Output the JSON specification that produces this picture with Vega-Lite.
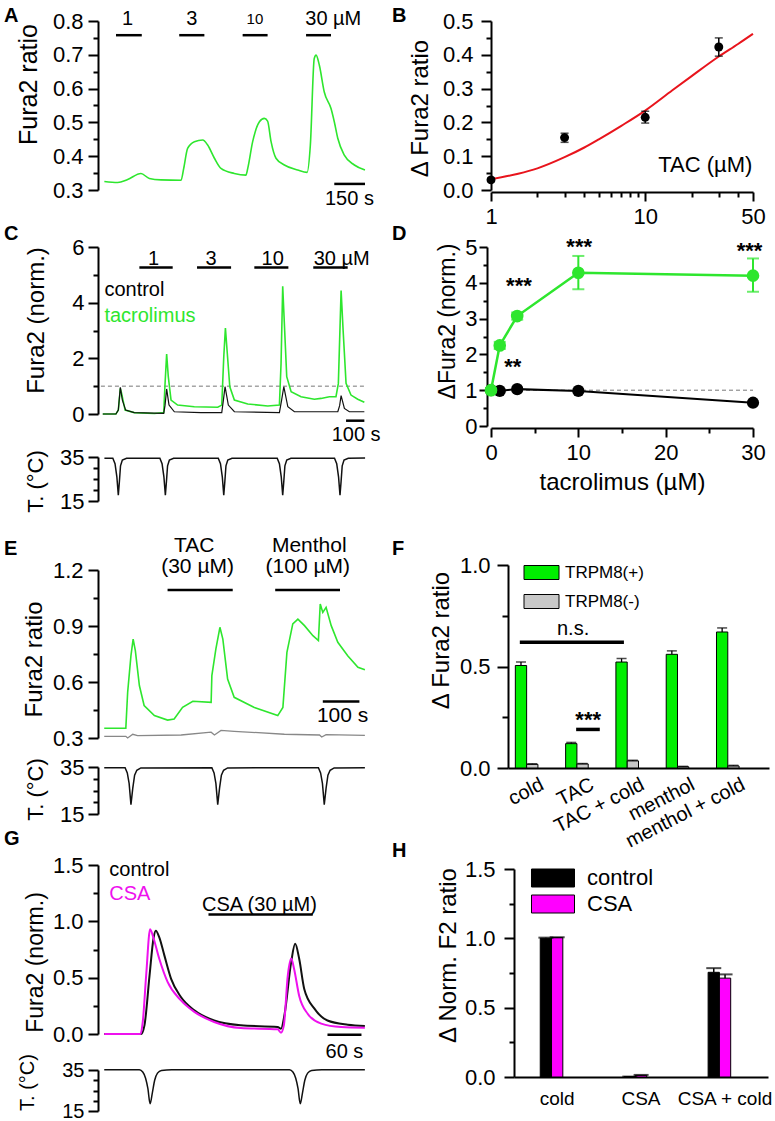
{
"$schema": "https://vega.github.io/schema/vega-lite/v6.json",
"padding": {"left": 3, "top": 6, "right": 2, "bottom": 0},
"config": {
 "view": {"stroke": null},
 "font": "Liberation Sans",
 "axis": {"domainColor": "black", "domainWidth": 2, "tickColor": "black", "tickWidth": 2, "labelColor": "black", "titleColor": "black", "labelFontSize": 22, "titleFontSize": 23, "titleFontWeight": "normal", "grid": false, "labelFlush": false, "labelOverlap": false, "tickCount": 40},
 "text": {"color": "black"}
},
"bounds": "flush",
"spacing": 393,
"resolve": {"scale": {"color": "independent"}, "legend": {"color": "independent"}},
"hconcat": [
{
"bounds": "flush",
"spacing": 0,
"vconcat": [
{
 "width": 268, "height": 169,
 "layer": [
  {"data": {"values": [{"t":31,"v":0.325},{"t":96,"v":0.322},{"t":145,"v":0.331},{"t":210,"v":0.349},{"t":251,"v":0.334},{"t":308,"v":0.33},{"t":406,"v":0.329},{"t":419,"v":0.364},{"t":438,"v":0.423},{"t":471,"v":0.443},{"t":512,"v":0.448},{"t":536,"v":0.433},{"t":569,"v":0.394},{"t":601,"v":0.364},{"t":666,"v":0.349},{"t":723,"v":0.344},{"t":732,"v":0.364},{"t":756,"v":0.443},{"t":789,"v":0.502},{"t":813,"v":0.512},{"t":829,"v":0.504},{"t":846,"v":0.443},{"t":870,"v":0.394},{"t":911,"v":0.374},{"t":976,"v":0.359},{"t":1022,"v":0.352},{"t":1038,"v":0.433},{"t":1057,"v":0.689},{"t":1066,"v":0.699},{"t":1082,"v":0.669},{"t":1106,"v":0.59},{"t":1139,"v":0.541},{"t":1155,"v":0.502},{"t":1172,"v":0.453},{"t":1204,"v":0.403},{"t":1253,"v":0.374},{"t":1305,"v":0.359}]},
   "mark": {"type": "line", "color": "#2ee62e", "strokeWidth": 1.6, "interpolate": "monotone"},
   "encoding": {
    "x": {"field": "t", "type": "quantitative", "scale": {"domain": [0, 1310], "nice": false, "zero": false}, "axis": null},
    "y": {"field": "v", "type": "quantitative", "scale": {"domain": [0.3, 0.8], "nice": false, "zero": false},
          "axis": {"values": [0.3,0.35,0.4,0.45,0.5,0.55,0.6,0.65,0.7,0.75,0.8], "tickCount": 40, "labelOverlap": false, "labelExpr": "abs(datum.value*10-round(datum.value*10))<0.01 ? format(datum.value,'.1f') : ''", "tickSize": {"condition": {"test": "abs(datum.value*10-round(datum.value*10))<0.01", "value": 10}, "value": 5}, "labelPadding": 5, "title": "Fura2 ratio", "titleX": -70, "titleY": 63, "titleBaseline": "middle", "titleFontSize": 25}}}},
  {"data": {"values": [{"t1":88,"t2":214,"v":0.758},{"t1":397,"t2":520,"v":0.758},{"t1":707,"t2":829,"v":0.758},{"t1":1017,"t2":1139,"v":0.758},{"t1":1155,"t2":1305,"v":0.318}]},
   "mark": {"type": "rule", "color": "black", "strokeWidth": 2.5},
   "encoding": {"x": {"field": "t1", "type": "quantitative", "axis": null}, "x2": {"field": "t2"}, "y": {"field": "v", "type": "quantitative"}}},
  {"data": {"values": [{"label":"1","t":145,"v":0.807},{"label":"3","t":459,"v":0.807},{"label":"30 µM","t":1150,"v":0.807},{"label":"150 s","t":1229,"v":0.274}]},
   "mark": {"type": "text", "fontSize": 20, "align": "center", "baseline": "middle"},
   "encoding": {"x": {"field": "t", "type": "quantitative", "axis": null}, "y": {"field": "v", "type": "quantitative"}, "text": {"field": "label", "type": "nominal"}}},
  {"data": {"values": [{"label":"10","t":767,"v":0.805}]},
   "mark": {"type": "text", "fontSize": 15, "align": "center", "baseline": "middle"},
   "encoding": {"x": {"field": "t", "type": "quantitative", "axis": null}, "y": {"field": "v", "type": "quantitative"}, "text": {"field": "label", "type": "nominal"}}},
  {"data": {"values": [{"label":"A","t":-459,"v":0.797},{"label":"B","t":1437,"v":0.797}]},
   "mark": {"type": "text", "fontSize": 20, "fontWeight": "bold", "align": "left", "baseline": "alphabetic"},
   "encoding": {"x": {"field": "t", "type": "quantitative", "axis": null}, "y": {"field": "v", "type": "quantitative"}, "text": {"field": "label", "type": "nominal"}}}
 ]
},
{"width": 268, "height": 57, "data": {"values": [{}]}, "mark": {"type": "point", "opacity": 0}},
{
 "width": 268, "height": 167,
 "layer": [
  {"data": {"values": [{"t":16,"v":1},{"t":1455,"v":1}]},
   "mark": {"type": "line", "color": "#777777", "strokeWidth": 1, "strokeDash": [4, 3]},
   "encoding": {
    "x": {"field": "t", "type": "quantitative", "scale": {"domain": [0, 1464], "nice": false, "zero": false}, "axis": null},
    "y": {"field": "v", "type": "quantitative", "scale": {"domain": [0, 6], "nice": false},
          "axis": {"values": [0,1,2,3,4,5,6], "tickCount": 40, "labelOverlap": false, "labelExpr": "datum.value%2==0 ? format(datum.value,'d') : ''", "tickSize": {"condition": {"test": "datum.value%2==0", "value": 10}, "value": 5}, "labelPadding": 4, "title": "Fura2 (norm.)", "titleX": -62, "titleY": 73, "titleBaseline": "middle", "titleFontSize": 24}}}},
  {"data": {"values": [{"t":26,"v":0},{"t":98,"v":0},{"t":111,"v":0.14},{"t":122,"v":0.92},{"t":129,"v":0.74},{"t":148,"v":0.14},{"t":198,"v":0.05},{"t":308,"v":0.02},{"t":359,"v":0.05},{"t":366,"v":1.05},{"t":375,"v":2.15},{"t":384,"v":1.34},{"t":399,"v":0.5},{"t":435,"v":0.32},{"t":526,"v":0.26},{"t":654,"v":0.24},{"t":676,"v":0.32},{"t":687,"v":2.05},{"t":696,"v":3.09},{"t":705,"v":2.29},{"t":720,"v":0.98},{"t":745,"v":0.5},{"t":818,"v":0.36},{"t":927,"v":0.29},{"t":991,"v":0.32},{"t":1000,"v":1.82},{"t":1009,"v":4.59},{"t":1018,"v":3.25},{"t":1031,"v":1.34},{"t":1055,"v":0.8},{"t":1109,"v":0.62},{"t":1182,"v":0.53},{"t":1218,"v":0.56},{"t":1264,"v":0.62},{"t":1300,"v":0.62},{"t":1313,"v":1.1},{"t":1328,"v":4.44},{"t":1339,"v":3.01},{"t":1355,"v":1.1},{"t":1382,"v":0.68},{"t":1419,"v":0.53},{"t":1455,"v":0.42}]},
   "mark": {"type": "line", "color": "#2ee62e", "strokeWidth": 1.6},
   "encoding": {"x": {"field": "t", "type": "quantitative", "axis": null}, "y": {"field": "v", "type": "quantitative"}}},
  {"data": {"values": [{"t":26,"v":0},{"t":98,"v":0},{"t":111,"v":0.14},{"t":122,"v":0.96},{"t":133,"v":0.5},{"t":151,"v":0.14},{"t":198,"v":0.05},{"t":359,"v":0.02},{"t":366,"v":0.3},{"t":375,"v":0.9},{"t":388,"v":0.32},{"t":417,"v":0.08},{"t":562,"v":0.05},{"t":676,"v":0.05},{"t":685,"v":0.5},{"t":694,"v":0.98},{"t":712,"v":0.32},{"t":745,"v":0.08},{"t":991,"v":0.05},{"t":1003,"v":0.5},{"t":1015,"v":0.98},{"t":1037,"v":0.26},{"t":1073,"v":0.08},{"t":1310,"v":0.08},{"t":1320,"v":0.3},{"t":1328,"v":0.66},{"t":1346,"v":0.2},{"t":1373,"v":0.08},{"t":1455,"v":0.08}]},
   "mark": {"type": "line", "color": "#111111", "strokeWidth": 1.2},
   "encoding": {"x": {"field": "t", "type": "quantitative", "axis": null}, "y": {"field": "v", "type": "quantitative"}}},
  {"data": {"values": [{"t1":226,"t2":408,"v":5.26},{"t1":541,"t2":727,"v":5.26},{"t1":854,"t2":1040,"v":5.26},{"t1":1176,"t2":1364,"v":5.26},{"t1":1355,"t2":1455,"v":-0.24}]},
   "mark": {"type": "rule", "color": "black", "strokeWidth": 2.5},
   "encoding": {"x": {"field": "t1", "type": "quantitative", "axis": null}, "x2": {"field": "t2"}, "y": {"field": "v", "type": "quantitative"}}},
  {"data": {"values": [{"label":"1","t":304,"v":5.58},{"label":"3","t":617,"v":5.58},{"label":"10","t":954,"v":5.58},{"label":"30 µM","t":1331,"v":5.58},{"label":"100 s","t":1410,"v":-0.75}]},
   "mark": {"type": "text", "fontSize": 20, "align": "center", "baseline": "middle"},
   "encoding": {"x": {"field": "t", "type": "quantitative", "axis": null}, "y": {"field": "v", "type": "quantitative"}, "text": {"field": "label", "type": "nominal"}}},
  {"data": {"values": [{"label":"control","t":35,"v":4.44}]},
   "mark": {"type": "text", "fontSize": 20, "align": "left", "baseline": "middle", "color": "black"},
   "encoding": {"x": {"field": "t", "type": "quantitative", "axis": null}, "y": {"field": "v", "type": "quantitative"}, "text": {"field": "label", "type": "nominal"}}},
  {"data": {"values": [{"label":"tacrolimus","t":35,"v":3.52}]},
   "mark": {"type": "text", "fontSize": 20, "align": "left", "baseline": "middle", "color": "#2ee62e"},
   "encoding": {"x": {"field": "t", "type": "quantitative", "axis": null}, "y": {"field": "v", "type": "quantitative"}, "text": {"field": "label", "type": "nominal"}}},
  {"data": {"values": [{"label":"C","t":-514,"v":6.25},{"label":"D","t":1606,"v":6.25}]},
   "mark": {"type": "text", "fontSize": 20, "fontWeight": "bold", "align": "left", "baseline": "alphabetic"},
   "encoding": {"x": {"field": "t", "type": "quantitative", "axis": null}, "y": {"field": "v", "type": "quantitative"}, "text": {"field": "label", "type": "nominal"}}}
 ]
},
{"width": 268, "height": 43, "data": {"values": [{}]}, "mark": {"type": "point", "opacity": 0}},
{
 "width": 268, "height": 44,
 "data": {"values": [{"t":35,"v":34.4},{"t":81,"v":34.4},{"t":93,"v":32},{"t":103,"v":26},{"t":111,"v":17.6},{"t":117,"v":24},{"t":123,"v":31},{"t":133,"v":33.6},{"t":156,"v":34.4},{"t":338,"v":34.4},{"t":350,"v":32},{"t":360,"v":26},{"t":368,"v":17.6},{"t":374,"v":24},{"t":380,"v":31},{"t":390,"v":33.6},{"t":413,"v":34.4},{"t":657,"v":34.4},{"t":669,"v":32},{"t":679,"v":26},{"t":687,"v":17.6},{"t":693,"v":24},{"t":699,"v":31},{"t":709,"v":33.6},{"t":732,"v":34.4},{"t":979,"v":34.4},{"t":991,"v":32},{"t":1001,"v":26},{"t":1009,"v":17.6},{"t":1015,"v":24},{"t":1021,"v":31},{"t":1031,"v":33.6},{"t":1054,"v":34.4},{"t":1292,"v":34.4},{"t":1304,"v":32},{"t":1314,"v":26},{"t":1322,"v":17.6},{"t":1328,"v":24},{"t":1334,"v":31},{"t":1344,"v":33.6},{"t":1367,"v":34.4},{"t":1459,"v":34.5}]},
 "mark": {"type": "line", "color": "#111111", "strokeWidth": 1.5},
 "encoding": {
  "x": {"field": "t", "type": "quantitative", "scale": {"domain": [0, 1464], "nice": false, "zero": false}, "axis": null},
  "y": {"field": "v", "type": "quantitative", "scale": {"domain": [15, 35], "nice": false, "zero": false},
        "axis": {"values": [15,20,25,30,35], "tickCount": 40, "labelOverlap": false, "labelExpr": "datum.value==15||datum.value==35 ? format(datum.value,'d') : ''", "tickSize": {"condition": {"test": "datum.value==15||datum.value==35", "value": 10}, "value": 5}, "labelPadding": 4, "title": "T. (°C)", "titleX": -63, "titleY": 24, "titleBaseline": "middle", "titleFontSize": 22}}}
},
{"width": 268, "height": 69, "data": {"values": [{}]}, "mark": {"type": "point", "opacity": 0}},
{
 "width": 268, "height": 168,
 "layer": [
  {"data": {"values": [{"t":17,"v":0.309},{"t":76,"v":0.309},{"t":81,"v":0.3},{"t":95,"v":0.32},{"t":108,"v":0.313},{"t":227,"v":0.316},{"t":309,"v":0.331},{"t":318,"v":0.316},{"t":336,"v":0.341},{"t":372,"v":0.336},{"t":509,"v":0.32},{"t":605,"v":0.316},{"t":611,"v":0.305},{"t":623,"v":0.318},{"t":729,"v":0.314}]},
   "mark": {"type": "line", "color": "#888888", "strokeWidth": 1.3},
   "encoding": {
    "x": {"field": "t", "type": "quantitative", "scale": {"domain": [0, 732], "nice": false, "zero": false}, "axis": null},
    "y": {"field": "v", "type": "quantitative", "scale": {"domain": [0.3, 1.2], "nice": false, "zero": false},
          "axis": {"values": [0.3,0.45,0.6,0.75,0.9,1.05,1.2], "tickCount": 40, "labelOverlap": false, "labelExpr": "abs(datum.value/0.3-round(datum.value/0.3))<0.01 ? format(datum.value,'.1f') : ''", "tickSize": {"condition": {"test": "abs(datum.value/0.3-round(datum.value/0.3))<0.01", "value": 10}, "value": 5}, "labelPadding": 5, "title": "Fura2 ratio", "titleX": -64, "titleY": 89, "titleBaseline": "middle", "titleFontSize": 24}}}},
  {"data": {"values": [{"t":17,"v":0.352},{"t":76,"v":0.352},{"t":81,"v":0.545},{"t":90,"v":0.741},{"t":96,"v":0.83},{"t":102,"v":0.768},{"t":113,"v":0.581},{"t":126,"v":0.474},{"t":154,"v":0.42},{"t":190,"v":0.396},{"t":208,"v":0.402},{"t":231,"v":0.464},{"t":259,"v":0.497},{"t":309,"v":0.491},{"t":311,"v":0.634},{"t":322,"v":0.777},{"t":333,"v":0.893},{"t":341,"v":0.83},{"t":354,"v":0.616},{"t":372,"v":0.518},{"t":427,"v":0.464},{"t":491,"v":0.42},{"t":505,"v":0.464},{"t":516,"v":0.759},{"t":532,"v":0.911},{"t":546,"v":0.937},{"t":564,"v":0.902},{"t":587,"v":0.848},{"t":602,"v":0.822},{"t":607,"v":1.018},{"t":614,"v":0.973},{"t":623,"v":1.0},{"t":637,"v":0.902},{"t":655,"v":0.813},{"t":682,"v":0.741},{"t":710,"v":0.679},{"t":729,"v":0.666}]},
   "mark": {"type": "line", "color": "#2ee62e", "strokeWidth": 1.6},
   "encoding": {"x": {"field": "t", "type": "quantitative", "axis": null}, "y": {"field": "v", "type": "quantitative"}}},
  {"data": {"values": [{"t1":190,"t2":368,"v":1.093},{"t1":484,"t2":661,"v":1.093},{"t1":614,"t2":714,"v":0.495}]},
   "mark": {"type": "rule", "color": "black", "strokeWidth": 2.5},
   "encoding": {"x": {"field": "t1", "type": "quantitative", "axis": null}, "x2": {"field": "t2"}, "y": {"field": "v", "type": "quantitative"}}},
  {"data": {"values": [{"label":"TAC","t":263,"v":1.33},{"label":"(30 µM)","t":272,"v":1.214},{"label":"Menthol","t":577,"v":1.33},{"label":"(100 µM)","t":573,"v":1.214},{"label":"100 s","t":668,"v":0.416}]},
   "mark": {"type": "text", "fontSize": 21, "align": "center", "baseline": "middle"},
   "encoding": {"x": {"field": "t", "type": "quantitative", "axis": null}, "y": {"field": "v", "type": "quantitative"}, "text": {"field": "label", "type": "nominal"}}},
  {"data": {"values": [{"label":"E","t":-257,"v":1.279},{"label":"F","t":803,"v":1.279}]},
   "mark": {"type": "text", "fontSize": 20, "fontWeight": "bold", "align": "left", "baseline": "alphabetic"},
   "encoding": {"x": {"field": "t", "type": "quantitative", "axis": null}, "y": {"field": "v", "type": "quantitative"}, "text": {"field": "label", "type": "nominal"}}}
 ]
},
{"width": 268, "height": 29, "data": {"values": [{}]}, "mark": {"type": "point", "opacity": 0}},
{
 "width": 268, "height": 47,
 "data": {"values": [{"t":17,"v":34.7},{"t":74,"v":34.7},{"t":80,"v":32.5},{"t":85,"v":28},{"t":90,"v":19},{"t":95,"v":26},{"t":100,"v":31.5},{"t":106,"v":33.6},{"t":117,"v":34.6},{"t":311,"v":34.7},{"t":317,"v":32.5},{"t":322,"v":28},{"t":327,"v":19},{"t":332,"v":26},{"t":337,"v":31.5},{"t":343,"v":33.6},{"t":354,"v":34.6},{"t":602,"v":34.7},{"t":608,"v":32.5},{"t":613,"v":28},{"t":618,"v":19},{"t":623,"v":26},{"t":628,"v":31.5},{"t":634,"v":33.6},{"t":645,"v":34.6},{"t":729,"v":34.7}]},
 "mark": {"type": "line", "color": "#111111", "strokeWidth": 1.5},
 "encoding": {
  "x": {"field": "t", "type": "quantitative", "scale": {"domain": [0, 732], "nice": false, "zero": false}, "axis": null},
  "y": {"field": "v", "type": "quantitative", "scale": {"domain": [15, 35], "nice": false, "zero": false},
        "axis": {"values": [15,20,25,30,35], "tickCount": 40, "labelOverlap": false, "labelExpr": "datum.value==15||datum.value==35 ? format(datum.value,'d') : ''", "tickSize": {"condition": {"test": "datum.value==15||datum.value==35", "value": 10}, "value": 5}, "labelPadding": 4, "title": "T. (°C)", "titleX": -63, "titleY": 22, "titleBaseline": "middle", "titleFontSize": 22}}}
},
{"width": 268, "height": 51, "data": {"values": [{}]}, "mark": {"type": "point", "opacity": 0}},
{
 "width": 268, "height": 169,
 "layer": [
  {"data": {"values": [{"t":11,"v":0},{"t":76,"v":0},{"t":82,"v":0.077},{"t":91,"v":0.52},{"t":98,"v":0.85},{"t":102,"v":0.916},{"t":108,"v":0.86},{"t":117,"v":0.7},{"t":129,"v":0.49},{"t":146,"v":0.33},{"t":170,"v":0.21},{"t":205,"v":0.12},{"t":252,"v":0.077},{"t":317,"v":0.062},{"t":323,"v":0.047},{"t":329,"v":0.166},{"t":341,"v":0.64},{"t":348,"v":0.8},{"t":355,"v":0.67},{"t":364,"v":0.4},{"t":382,"v":0.225},{"t":405,"v":0.12},{"t":441,"v":0.083},{"t":471,"v":0.071}]},
   "mark": {"type": "line", "color": "#111111", "strokeWidth": 2, "interpolate": "monotone"},
   "encoding": {
    "x": {"field": "t", "type": "quantitative", "scale": {"domain": [0, 473], "nice": false, "zero": false}, "axis": null},
    "y": {"field": "v", "type": "quantitative", "scale": {"domain": [0, 1.5], "nice": false},
          "axis": {"values": [0,0.25,0.5,0.75,1,1.25,1.5], "tickCount": 40, "labelOverlap": false, "labelExpr": "datum.value%0.5==0 ? format(datum.value,'.1f') : ''", "tickSize": {"condition": {"test": "datum.value%0.5==0", "value": 10}, "value": 5}, "labelPadding": 5, "title": "Fura2 (norm.)", "titleX": -63, "titleY": 97, "titleBaseline": "middle", "titleFontSize": 23}}}},
  {"data": {"values": [{"t":11,"v":0},{"t":75,"v":0},{"t":79,"v":0.107},{"t":85,"v":0.52},{"t":92,"v":0.93},{"t":98,"v":0.85},{"t":108,"v":0.67},{"t":123,"v":0.46},{"t":146,"v":0.3},{"t":170,"v":0.196},{"t":205,"v":0.107},{"t":252,"v":0.053},{"t":317,"v":0.042},{"t":323,"v":0.012},{"t":328,"v":0.077},{"t":335,"v":0.52},{"t":341,"v":0.67},{"t":346,"v":0.58},{"t":355,"v":0.34},{"t":370,"v":0.18},{"t":394,"v":0.092},{"t":429,"v":0.062},{"t":471,"v":0.056}]},
   "mark": {"type": "line", "color": "#ee11ee", "strokeWidth": 2, "interpolate": "monotone"},
   "encoding": {"x": {"field": "t", "type": "quantitative", "axis": null}, "y": {"field": "v", "type": "quantitative"}}},
  {"data": {"values": [{"t1":195,"t2":379,"v":1.06},{"t1":405,"t2":465,"v":-0.006}]},
   "mark": {"type": "rule", "color": "black", "strokeWidth": 2.5},
   "encoding": {"x": {"field": "t1", "type": "quantitative", "axis": null}, "x2": {"field": "t2"}, "y": {"field": "v", "type": "quantitative"}}},
  {"data": {"values": [{"label":"CSA (30 µM)","t":285,"v":1.145},{"label":"60 s","t":435,"v":-0.16}]},
   "mark": {"type": "text", "fontSize": 20, "align": "center", "baseline": "middle"},
   "encoding": {"x": {"field": "t", "type": "quantitative", "axis": null}, "y": {"field": "v", "type": "quantitative"}, "text": {"field": "label", "type": "nominal"}}},
  {"data": {"values": [{"label":"control","t":20,"v":1.456}]},
   "mark": {"type": "text", "fontSize": 20, "align": "left", "baseline": "middle", "color": "black"},
   "encoding": {"x": {"field": "t", "type": "quantitative", "axis": null}, "y": {"field": "v", "type": "quantitative"}, "text": {"field": "label", "type": "nominal"}}},
  {"data": {"values": [{"label":"CSA","t":20,"v":1.24}]},
   "mark": {"type": "text", "fontSize": 20, "align": "left", "baseline": "middle", "color": "#ee11ee"},
   "encoding": {"x": {"field": "t", "type": "quantitative", "axis": null}, "y": {"field": "v", "type": "quantitative"}, "text": {"field": "label", "type": "nominal"}}},
  {"data": {"values": [{"label":"G","t":-166,"v":1.68},{"label":"H","t":519,"v":1.575}]},
   "mark": {"type": "text", "fontSize": 20, "fontWeight": "bold", "align": "left", "baseline": "alphabetic"},
   "encoding": {"x": {"field": "t", "type": "quantitative", "axis": null}, "y": {"field": "v", "type": "quantitative"}, "text": {"field": "label", "type": "nominal"}}}
 ]
},
{"width": 268, "height": 36, "data": {"values": [{}]}, "mark": {"type": "point", "opacity": 0}},
{
 "width": 268, "height": 41,
 "data": {"values": [{"t":11,"v":35.1},{"t":73,"v":35.1},{"t":79,"v":34},{"t":84,"v":31},{"t":88,"v":26},{"t":92,"v":18.5},{"t":96,"v":24},{"t":100,"v":30},{"t":105,"v":33.5},{"t":112,"v":34.8},{"t":130,"v":35.1},{"t":338,"v":35.1},{"t":344,"v":34},{"t":349,"v":31},{"t":353,"v":26},{"t":357,"v":18.5},{"t":361,"v":24},{"t":365,"v":30},{"t":370,"v":33.5},{"t":377,"v":34.8},{"t":395,"v":35.1},{"t":471,"v":35.1}]},
 "mark": {"type": "line", "color": "#111111", "strokeWidth": 1.5, "interpolate": "monotone"},
 "encoding": {
  "x": {"field": "t", "type": "quantitative", "scale": {"domain": [0, 473], "nice": false, "zero": false}, "axis": null},
  "y": {"field": "v", "type": "quantitative", "scale": {"domain": [15, 35], "nice": false, "zero": false},
        "axis": {"values": [15,20,25,30,35], "tickCount": 40, "labelOverlap": false, "labelExpr": "datum.value==15||datum.value==35 ? format(datum.value,'d') : ''", "tickSize": {"condition": {"test": "datum.value==15||datum.value==35", "value": 10}, "value": 5}, "labelPadding": 4, "labelFontSize": 20, "title": "T. (°C)", "titleX": -71, "titleY": 12, "titleBaseline": "middle", "titleFontSize": 20}}}
}
]
},
{
"bounds": "flush",
"spacing": 0,
"resolve": {"scale": {"color": "independent"}, "legend": {"color": "independent"}},
"vconcat": [
{
 "width": 262, "height": 169,
 "layer": [
  {"data": {"values": [{"c":1,"v":0.032},{"c":1.5,"v":0.048},{"c":2,"v":0.064},{"c":3,"v":0.097},{"c":4,"v":0.125},{"c":5,"v":0.15},{"c":7,"v":0.19},{"c":10,"v":0.235},{"c":15,"v":0.295},{"c":20,"v":0.337},{"c":30,"v":0.395},{"c":40,"v":0.432},{"c":50,"v":0.462}]},
   "mark": {"type": "line", "color": "#e8141c", "strokeWidth": 2, "interpolate": "monotone"},
   "encoding": {
    "x": {"field": "c", "type": "quantitative", "scale": {"type": "log", "domain": [1, 50], "nice": false},
          "axis": {"values": [1,2,3,4,5,6,7,8,9,10,20,30,40,50], "tickCount": 40, "labelOverlap": false, "labelExpr": "datum.value==1||datum.value==10||datum.value==50 ? format(datum.value,'d') : ''", "tickSize": {"condition": {"test": "datum.value==1||datum.value==10||datum.value==50", "value": 9}, "value": 5}, "offset": 2, "labelPadding": 5, "title": null}},
    "y": {"field": "v", "type": "quantitative", "scale": {"domain": [0, 0.5], "nice": false},
          "axis": {"values": [0,0.05,0.1,0.15,0.2,0.25,0.3,0.35,0.4,0.45,0.5], "tickCount": 40, "labelOverlap": false, "labelExpr": "abs(datum.value*10-round(datum.value*10))<0.01 ? format(datum.value,'.1f') : ''", "tickSize": {"condition": {"test": "abs(datum.value*10-round(datum.value*10))<0.01", "value": 10}, "value": 5}, "labelPadding": 8, "title": "Δ Fura2 ratio", "titleX": -71, "titleY": 87, "titleBaseline": "middle", "titleFontSize": 24}}}},
  {"data": {"values": [{"c":1,"v":0.03,"lo":0.025,"hi":0.035},{"c":3,"v":0.155,"lo":0.141,"hi":0.168},{"c":10,"v":0.215,"lo":0.198,"hi":0.233},{"c":30,"v":0.423,"lo":0.396,"hi":0.45}]},
   "layer": [
    {"mark": {"type": "rule", "color": "black", "strokeWidth": 1.5},
     "encoding": {"x": {"field": "c", "type": "quantitative"}, "y": {"field": "lo", "type": "quantitative"}, "y2": {"field": "hi"}}},
    {"mark": {"type": "tick", "orient": "horizontal", "size": 8, "thickness": 1.5, "color": "black"},
     "encoding": {"x": {"field": "c", "type": "quantitative"}, "y": {"field": "lo", "type": "quantitative"}}},
    {"mark": {"type": "tick", "orient": "horizontal", "size": 8, "thickness": 1.5, "color": "black"},
     "encoding": {"x": {"field": "c", "type": "quantitative"}, "y": {"field": "hi", "type": "quantitative"}}},
    {"mark": {"type": "point", "filled": true, "color": "black", "size": 80, "opacity": 1},
     "encoding": {"x": {"field": "c", "type": "quantitative"}, "y": {"field": "v", "type": "quantitative"}}}
   ]},
  {"data": {"values": [{"label":"TAC (µM)","c":49.5,"v":0.052}]},
   "mark": {"type": "text", "fontSize": 22, "align": "right", "baseline": "alphabetic"},
   "encoding": {"x": {"field": "c", "type": "quantitative"}, "y": {"field": "v", "type": "quantitative"}, "text": {"field": "label", "type": "nominal"}}}
 ]
},
{"width": 262, "height": 57, "data": {"values": [{}]}, "mark": {"type": "point", "opacity": 0}},
{
 "width": 262, "height": 179,
 "layer": [
  {"data": {"values": [{"x":0,"v":1},{"x":30,"v":1}]},
   "mark": {"type": "line", "color": "#777777", "strokeWidth": 1, "strokeDash": [4, 3]},
   "encoding": {
    "x": {"field": "x", "type": "quantitative", "scale": {"domain": [0, 30], "nice": false},
          "axis": {"values": [0,5,10,15,20,25,30], "tickCount": 40, "labelOverlap": false, "labelExpr": "datum.value%10==0 ? format(datum.value,'d') : ''", "tickSize": {"condition": {"test": "datum.value%10==0", "value": 9}, "value": 5}, "offset": 2, "labelPadding": 5, "title": "tacrolimus (µM)", "titlePadding": 7, "titleFontSize": 24}},
    "y": {"field": "v", "type": "quantitative", "scale": {"domain": [0, 5], "nice": false},
          "axis": {"values": [0,0.5,1,1.5,2,2.5,3,3.5,4,4.5,5], "tickCount": 40, "labelOverlap": false, "labelExpr": "datum.value%1==0 ? format(datum.value,'d') : ''", "tickSize": {"condition": {"test": "datum.value%1==0", "value": 8}, "value": 4}, "offset": 4, "labelPadding": 2, "title": "ΔFura2 (norm.)", "titleX": -40, "titleY": 74, "titleBaseline": "middle", "titleFontSize": 23}}}},
  {"data": {"values": [{"x":0,"v":1.0,"lo":0.96,"hi":1.04},{"x":1,"v":0.98,"lo":0.9,"hi":1.06},{"x":3,"v":1.03,"lo":0.96,"hi":1.1},{"x":10,"v":0.98,"lo":0.9,"hi":1.06},{"x":30,"v":0.65,"lo":0.57,"hi":0.73}]},
   "layer": [
    {"mark": {"type": "line", "color": "black", "strokeWidth": 2},
     "encoding": {"x": {"field": "x", "type": "quantitative"}, "y": {"field": "v", "type": "quantitative"}}},
    {"mark": {"type": "rule", "color": "black", "strokeWidth": 1.5},
     "encoding": {"x": {"field": "x", "type": "quantitative"}, "y": {"field": "lo", "type": "quantitative"}, "y2": {"field": "hi"}}},
    {"mark": {"type": "point", "filled": true, "color": "black", "size": 150, "opacity": 1},
     "encoding": {"x": {"field": "x", "type": "quantitative"}, "y": {"field": "v", "type": "quantitative"}}}
   ]},
  {"data": {"values": [{"x":0,"v":1.0,"lo":0.95,"hi":1.05},{"x":1,"v":2.25,"lo":2.15,"hi":2.35},{"x":3,"v":3.07,"lo":2.97,"hi":3.17},{"x":10,"v":4.28,"lo":3.82,"hi":4.75},{"x":30,"v":4.2,"lo":3.75,"hi":4.68}]},
   "layer": [
    {"mark": {"type": "line", "color": "#2ee62e", "strokeWidth": 2.5},
     "encoding": {"x": {"field": "x", "type": "quantitative"}, "y": {"field": "v", "type": "quantitative"}}},
    {"mark": {"type": "rule", "color": "#2ee62e", "strokeWidth": 2},
     "encoding": {"x": {"field": "x", "type": "quantitative"}, "y": {"field": "lo", "type": "quantitative"}, "y2": {"field": "hi"}}},
    {"mark": {"type": "tick", "orient": "horizontal", "size": 12, "thickness": 2, "color": "#2ee62e"},
     "encoding": {"x": {"field": "x", "type": "quantitative"}, "y": {"field": "lo", "type": "quantitative"}}},
    {"mark": {"type": "tick", "orient": "horizontal", "size": 12, "thickness": 2, "color": "#2ee62e"},
     "encoding": {"x": {"field": "x", "type": "quantitative"}, "y": {"field": "hi", "type": "quantitative"}}},
    {"mark": {"type": "point", "filled": true, "color": "#2ee62e", "size": 160, "opacity": 1},
     "encoding": {"x": {"field": "x", "type": "quantitative"}, "y": {"field": "v", "type": "quantitative"}}}
   ]},
  {"data": {"values": [{"label":"***","x":10.1,"v":4.8},{"label":"***","x":29.6,"v":4.7},{"label":"***","x":3.2,"v":3.71},{"label":"**","x":2.5,"v":1.45}]},
   "mark": {"type": "text", "fontSize": 22, "fontWeight": "bold", "align": "center", "baseline": "alphabetic"},
   "encoding": {"x": {"field": "x", "type": "quantitative"}, "y": {"field": "v", "type": "quantitative"}, "text": {"field": "label", "type": "nominal"}}}
 ]
},
{"width": 262, "height": 139, "data": {"values": [{}]}, "mark": {"type": "point", "opacity": 0}},
{
 "width": 278, "height": 203,
 "layer": [
  {"data": {"values": [{"cond":"cold","grp":"TRPM8(+)","v":0.505,"hi":0.522},{"cond":"cold","grp":"TRPM8(-)","v":0.018,"hi":0.021},{"cond":"TAC","grp":"TRPM8(+)","v":0.12,"hi":0.126},{"cond":"TAC","grp":"TRPM8(-)","v":0.02,"hi":0.022},{"cond":"TAC + cold","grp":"TRPM8(+)","v":0.522,"hi":0.539},{"cond":"TAC + cold","grp":"TRPM8(-)","v":0.035,"hi":0.038},{"cond":"menthol","grp":"TRPM8(+)","v":0.56,"hi":0.577},{"cond":"menthol","grp":"TRPM8(-)","v":0.006,"hi":0.008},{"cond":"menthol + cold","grp":"TRPM8(+)","v":0.67,"hi":0.69},{"cond":"menthol + cold","grp":"TRPM8(-)","v":0.01,"hi":0.013}]},
   "layer": [
    {"mark": {"type": "bar", "stroke": "black", "strokeWidth": 1},
     "encoding": {
      "x": {"field": "cond", "type": "nominal", "sort": ["cold","TAC","TAC + cold","menthol","menthol + cold"], "scale": {"domain": ["cold","TAC","TAC + cold","menthol","menthol + cold"], "range": [17, 278], "paddingInner": 0, "paddingOuter": 0.095},
            "axis": {"title": null, "labelAngle": -27, "ticks": false, "labelPadding": 6, "labelFontSize": 20}},
      "xOffset": {"field": "grp", "type": "nominal", "sort": ["TRPM8(+)","TRPM8(-)"], "scale": {"domain": ["TRPM8(+)","TRPM8(-)"], "paddingInner": 0, "paddingOuter": 0.227}},
      "y": {"field": "v", "type": "quantitative", "scale": {"domain": [0, 1], "nice": false},
            "axis": {"values": [0,0.25,0.5,0.75,1], "tickCount": 40, "labelOverlap": false, "labelExpr": "datum.value%0.5==0 ? format(datum.value,'.1f') : ''", "tickSize": {"condition": {"test": "datum.value%0.5==0", "value": 11}, "value": 6}, "offset": -17, "labelPadding": 7, "title": "Δ Fura2 ratio", "titleX": -67, "titleY": 75, "titleBaseline": "middle", "titleFontSize": 24}},
      "color": {"field": "grp", "type": "nominal", "scale": {"domain": ["TRPM8(+)","TRPM8(-)"], "range": ["#00ee00","#c8c8c8"]},
                "legend": {"orient": "none", "legendX": 42, "legendY": -1, "title": null, "symbolType": "M-2.5,-1L2.5,-1L2.5,1L-2.5,1Z", "symbolSize": 196, "symbolStrokeColor": "black", "symbolStrokeWidth": 1, "symbolOpacity": 1, "labelFontSize": 17, "labelOffset": 15, "rowPadding": 10, "padding": 0}}
     }},
    {"mark": {"type": "rule", "color": "black", "strokeWidth": 1.3},
     "encoding": {"x": {"field": "cond", "type": "nominal", "sort": ["cold","TAC","TAC + cold","menthol","menthol + cold"]}, "xOffset": {"field": "grp", "type": "nominal", "sort": ["TRPM8(+)","TRPM8(-)"]}, "y": {"field": "v", "type": "quantitative"}, "y2": {"field": "hi"}}},
    {"mark": {"type": "tick", "orient": "horizontal", "size": 10, "thickness": 1.5, "color": "black"},
     "encoding": {"x": {"field": "cond", "type": "nominal", "sort": ["cold","TAC","TAC + cold","menthol","menthol + cold"]}, "xOffset": {"field": "grp", "type": "nominal", "sort": ["TRPM8(+)","TRPM8(-)"]}, "y": {"field": "hi", "type": "quantitative"}}}
   ]},
  {"data": {"values": [{"a":"cold","b":"TAC + cold","v":0.62}]},
   "mark": {"type": "rule", "color": "black", "strokeWidth": 3.5},
   "encoding": {"x": {"field": "a", "type": "nominal", "sort": ["cold","TAC","TAC + cold","menthol","menthol + cold"], "bandPosition": 0.14}, "x2": {"field": "b", "bandPosition": 0.21}, "y": {"field": "v", "type": "quantitative"}}},
  {"data": {"values": [{"a":"TAC","b":"TAC","v":0.19}]},
   "mark": {"type": "rule", "color": "black", "strokeWidth": 3.5},
   "encoding": {"x": {"field": "a", "type": "nominal", "sort": ["cold","TAC","TAC + cold","menthol","menthol + cold"], "bandPosition": 0.26}, "x2": {"field": "b", "bandPosition": 0.73}, "y": {"field": "v", "type": "quantitative"}}},
  {"data": {"values": [{"a":"TAC","label":"n.s.","v":0.656}]},
   "mark": {"type": "text", "fontSize": 20, "align": "center", "baseline": "alphabetic"},
   "encoding": {"x": {"field": "a", "type": "nominal", "sort": ["cold","TAC","TAC + cold","menthol","menthol + cold"], "bandPosition": 0.2}, "y": {"field": "v", "type": "quantitative"}, "text": {"field": "label", "type": "nominal"}}},
  {"data": {"values": [{"a":"TAC","label":"***","v":0.2}]},
   "mark": {"type": "text", "fontSize": 22, "fontWeight": "bold", "align": "center", "baseline": "alphabetic"},
   "encoding": {"x": {"field": "a", "type": "nominal", "sort": ["cold","TAC","TAC + cold","menthol","menthol + cold"]}, "y": {"field": "v", "type": "quantitative"}, "text": {"field": "label", "type": "nominal"}}}
 ]
},
{"width": 262, "height": 101, "data": {"values": [{}]}, "mark": {"type": "point", "opacity": 0}},
{
 "width": 277, "height": 208,
 "data": {"values": [{"cond":"cold","grp":"control","v":1.0,"hi":1.005},{"cond":"cold","grp":"CSA","v":1.005,"hi":1.008},{"cond":"CSA","grp":"control","v":0.002,"hi":0.003},{"cond":"CSA","grp":"CSA","v":0.012,"hi":0.015},{"cond":"CSA + cold","grp":"control","v":0.755,"hi":0.785},{"cond":"CSA + cold","grp":"CSA","v":0.713,"hi":0.74}]},
 "layer": [
  {"mark": {"type": "bar", "stroke": "black", "strokeWidth": 1},
   "encoding": {
    "x": {"field": "cond", "type": "nominal", "sort": ["cold","CSA","CSA + cold"], "scale": {"domain": ["cold","CSA","CSA + cold"], "range": [23, 277], "paddingInner": 0, "paddingOuter": 0.013},
          "axis": {"title": null, "labelAngle": 0, "ticks": false, "labelPadding": 12, "labelFontSize": 19}},
    "xOffset": {"field": "grp", "type": "nominal", "sort": ["control","CSA"], "scale": {"domain": ["control","CSA"], "paddingInner": 0.139, "paddingOuter": 0.233}},
    "y": {"field": "v", "type": "quantitative", "scale": {"domain": [0, 1.5], "nice": false},
          "axis": {"values": [0,0.25,0.5,0.75,1,1.25,1.5], "tickCount": 40, "labelOverlap": false, "labelExpr": "datum.value%0.5==0 ? format(datum.value,'.1f') : ''", "tickSize": {"condition": {"test": "datum.value%0.5==0", "value": 10}, "value": 5}, "offset": -23, "labelPadding": 9, "title": "Δ Norm. F2 ratio", "titleX": -66, "titleY": 86, "titleBaseline": "middle", "titleFontSize": 24}},
    "color": {"field": "grp", "type": "nominal", "scale": {"domain": ["control","CSA"], "range": ["#000000","#ff00ff"]},
              "legend": {"orient": "none", "legendX": 51, "legendY": -2, "title": null, "symbolType": "M-2.39,-1L2.39,-1L2.39,1L-2.39,1Z", "symbolSize": 324, "symbolStrokeColor": "black", "symbolStrokeWidth": 1, "symbolOpacity": 1, "labelFontSize": 22, "labelOffset": 23, "rowPadding": 4, "padding": 0}}
   }},
  {"mark": {"type": "rule", "color": "black", "strokeWidth": 1.5},
   "encoding": {"x": {"field": "cond", "type": "nominal", "sort": ["cold","CSA","CSA + cold"]}, "xOffset": {"field": "grp", "type": "nominal", "sort": ["control","CSA"]}, "y": {"field": "v", "type": "quantitative"}, "y2": {"field": "hi"}}},
  {"mark": {"type": "tick", "orient": "horizontal", "size": 15, "thickness": 2, "color": "black"},
   "encoding": {"x": {"field": "cond", "type": "nominal", "sort": ["cold","CSA","CSA + cold"]}, "xOffset": {"field": "grp", "type": "nominal", "sort": ["control","CSA"]}, "y": {"field": "hi", "type": "quantitative"}}}
 ]
}
]
}
]
}
